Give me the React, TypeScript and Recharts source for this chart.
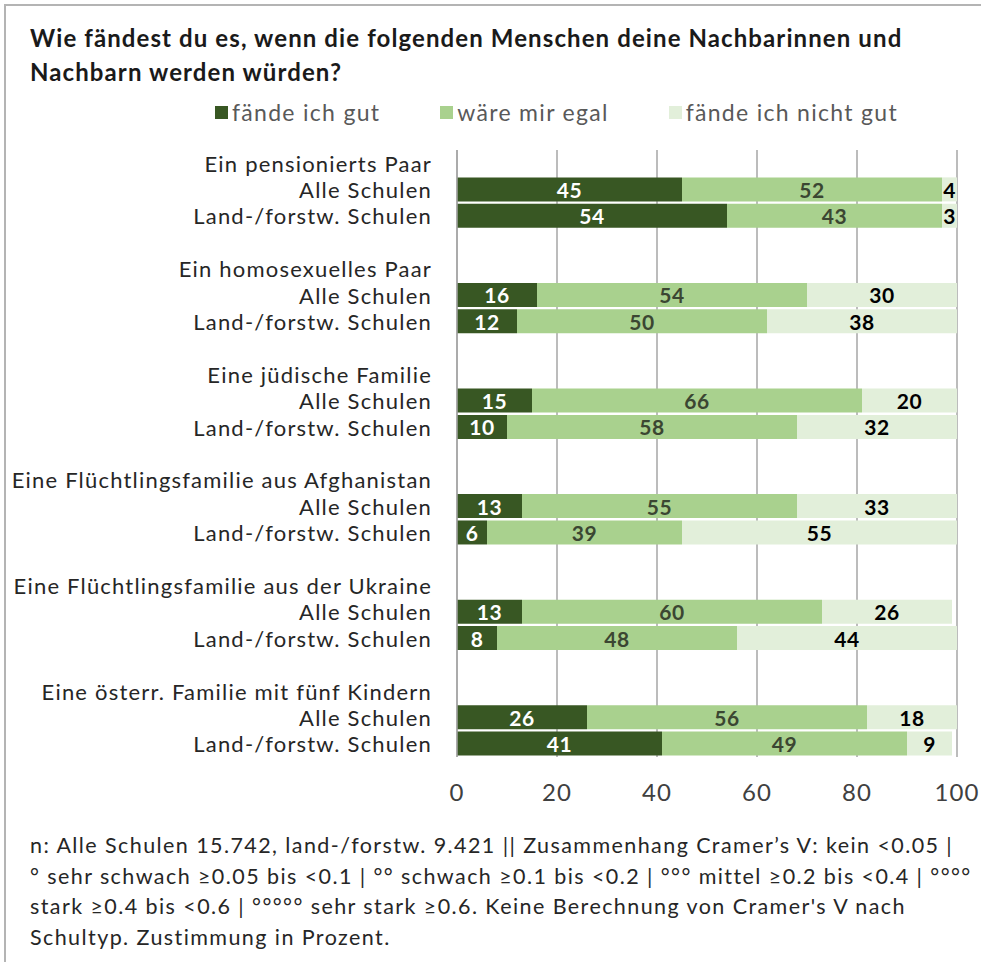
import React from "react";
import {
  BarChart,
  Bar,
  XAxis,
  YAxis,
  CartesianGrid,
  LabelList,
} from "recharts";

// Gruppen (Personengruppen) und Schultypen
const groups = [
  "Ein pensionierts Paar",
  "Ein homosexuelles Paar",
  "Eine jüdische Familie",
  "Eine Flüchtlingsfamilie aus Afghanistan",
  "Eine Flüchtlingsfamilie aus der Ukraine",
  "Eine österr. Familie mit fünf Kindern",
];
const schoolTypes = ["Alle Schulen", "Land-/forstw. Schulen"];

// je Gruppe: Alle Schulen, Land-/forstw. Schulen
const gutValues = [45, 54, 16, 12, 15, 10, 13, 6, 13, 8, 26, 41];
const egalValues = [52, 43, 54, 50, 66, 58, 55, 39, 60, 48, 56, 49];
const nichtGutValues = [4, 3, 30, 38, 20, 32, 33, 55, 26, 44, 18, 9];

const xTicks = [0, 20, 40, 60, 80, 100];

const series = [
  { key: "gut", name: "fände ich gut", color: "#385723", text: "#ffffff" },
  { key: "egal", name: "wäre mir egal", color: "#a9d18e", text: "#3b4632" },
  { key: "nicht", name: "fände ich nicht gut", color: "#e2efda", text: "#000000" },
];

type Row = {
  id: string;
  label: string;
  gut?: number;
  egal?: number;
  nicht?: number;
};

const rows: Row[] = [];
groups.forEach((g, gi) => {
  rows.push({ id: `h${gi}`, label: g });
  schoolTypes.forEach((s, si) => {
    const i = gi * 2 + si;
    rows.push({
      id: `r${gi}-${si}`,
      label: s,
      gut: gutValues[i],
      egal: egalValues[i],
      nicht: nichtGutValues[i],
    });
  });
  if (gi < groups.length - 1) rows.push({ id: `b${gi}`, label: "" });
});

const labelOf: Record<string, string> = {};
rows.forEach((r) => (labelOf[r.id] = r.label));

const FONT = "Lato, 'Open Sans', sans-serif";

const footnote = [
  "n: Alle Schulen 15.742, land-/forstw. 9.421 || Zusammenhang Cramer’s V: kein <0.05 |",
  "° sehr schwach ≥0.05 bis <0.1 | °° schwach ≥0.1 bis <0.2 | °°° mittel ≥0.2 bis <0.4 | °°°°",
  "stark ≥0.4 bis <0.6 | °°°°° sehr stark ≥0.6. Keine Berechnung von Cramer's V nach",
  "Schultyp. Zustimmung in Prozent.",
];

const YTick = (props: any) => {
  const { x, y, payload } = props;
  return (
    <text
      x={x}
      y={y}
      textAnchor="end"
      dominantBaseline="central"
      fontSize={22}
      letterSpacing={1.2}
      fontFamily={FONT}
      fill="#262626"
    >
      {labelOf[payload.value]}
    </text>
  );
};

const makeLabel = (fill: string) => (props: any) => {
  const { x, y, width, height, value } = props;
  if (value == null) return null;
  let cx = x + width / 2;
  if (cx > 952) cx = 952;
  return (
    <text
      x={cx}
      y={y + height / 2}
      textAnchor="middle"
      dominantBaseline="central"
      fontSize={21}
      fontWeight="bold"
      letterSpacing={0.5}
      fontFamily={FONT}
      fill={fill}
    >
      {value}
    </text>
  );
};

export default function App() {
  return (
    <div
      style={{
        position: "absolute",
        left: 0,
        top: 0,
        width: 981,
        height: 962,
        background: "#fff",
        fontFamily: FONT,
        overflow: "hidden",
      }}
    >
      <div
        style={{
          position: "absolute",
          left: 4,
          top: 4,
          right: 0,
          bottom: 0,
          borderTop: "2px solid #b4b4b4",
          borderLeft: "2px solid #b4b4b4",
        }}
      />
      <div
        style={{
          position: "absolute",
          left: 30,
          top: 21,
          fontSize: 24,
          letterSpacing: 1.1,
          fontWeight: "bold",
          lineHeight: "34px",
          color: "#1a1a1a",
          whiteSpace: "nowrap",
        }}
      >
        Wie fändest du es, wenn die folgenden Menschen deine Nachbarinnen und
        <br />
        Nachbarn werden würden?
      </div>
      <div
        style={{
          position: "absolute",
          left: 215,
          top: 97,
          display: "flex",
          gap: 60,
          fontSize: 23,
          letterSpacing: 1.3,
          color: "#595959",
          lineHeight: "30px",
          whiteSpace: "nowrap",
        }}
      >
        {series.map((s) => (
          <div key={s.key} style={{ display: "flex", alignItems: "center" }}>
            <span
              style={{
                display: "inline-block",
                width: 13,
                height: 13,
                background: s.color,
                marginRight: 4,
              }}
            />
            {s.name}
          </div>
        ))}
      </div>
      <div style={{ position: "absolute", left: 0, top: 0 }}>
        <BarChart
          width={981}
          height={830}
          data={rows}
          layout="vertical"
          barSize={24}
          margin={{ top: 150, right: 24, bottom: 23, left: 0 }}
        >
          <CartesianGrid
            horizontal={false}
            stroke="#a6a6a6"
            strokeWidth={1.5}
          />
          <XAxis
            type="number"
            domain={[0, 100]}
            ticks={xTicks}
            allowDataOverflow
            axisLine={false}
            tickLine={false}
            tickSize={0}
            tickMargin={27}
            height={50}
            tick={{ fontSize: 24, fill: "#404040", fontFamily: FONT, letterSpacing: 1 }}
          />
          <YAxis
            type="category"
            dataKey="id"
            width={457}
            interval={0}
            tickLine={false}
            tickSize={0}
            tickMargin={25}
            axisLine={{ stroke: "#a6a6a6", strokeWidth: 1.5 }}
            tick={<YTick />}
          />
          {series.map((s) => (
            <Bar
              key={s.key}
              dataKey={s.key}
              stackId="a"
              fill={s.color}
              isAnimationActive={false}
            >
              <LabelList dataKey={s.key} content={makeLabel(s.text)} />
            </Bar>
          ))}
        </BarChart>
      </div>
      <div
        style={{
          position: "absolute",
          left: 30,
          top: 830,
          fontSize: 21.5,
          letterSpacing: 1.42,
          lineHeight: "30.5px",
          color: "#262626",
          whiteSpace: "nowrap",
        }}
      >
        {footnote.map((l, i) => (
          <div key={i}>{l}</div>
        ))}
      </div>
    </div>
  );
}
